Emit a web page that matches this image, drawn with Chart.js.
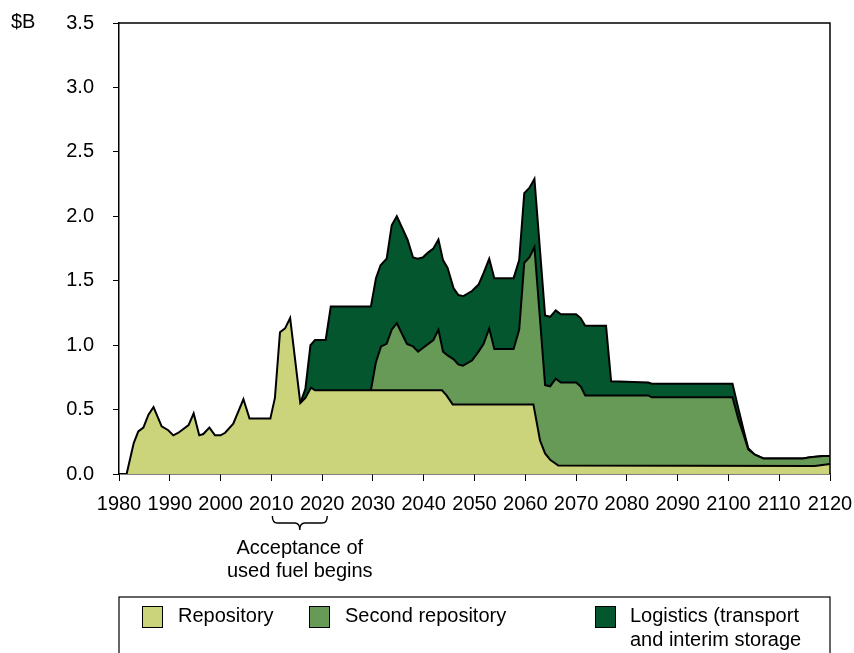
<!DOCTYPE html>
<html>
<head>
<meta charset="utf-8">
<script src="https://cdn.jsdelivr.net/npm/chart.js@4.4.1/dist/chart.umd.min.js"></script>
<style>
	body { margin: 0; background: #fff; }
	#wrap { width: 854px; height: 653px; position: relative; }
</style>
</head>
<body>
<div id="wrap"><canvas id="chart"></canvas></div>
<script>
// Values: the top edge of each band ($B)
const repoYears = [1981.5, 1982.9, 1983.8, 1984.8, 1985.8, 1986.8, 1988.4, 1989.7, 1990.7, 1991.7, 1993.7, 1994.7, 1995.8, 1996.6, 1997.8, 1998.9, 2000.0, 2000.9, 2002.5, 2004.5, 2005.7, 2009.8, 2010.7, 2011.7, 2012.7, 2013.7, 2015.7, 2016.7, 2017.8, 2018.6, 2043.6, 2044.5, 2045.7, 2061.6, 2062.3, 2062.9, 2063.9, 2064.9, 2066.5, 2117.0, 2118.5, 2120];
const repoValues = [0, 0.24, 0.33, 0.36, 0.46, 0.52, 0.37, 0.34, 0.30, 0.32, 0.38, 0.47, 0.30, 0.31, 0.36, 0.30, 0.30, 0.32, 0.39, 0.58, 0.43, 0.43, 0.59, 1.10, 1.13, 1.21, 0.55, 0.59, 0.67, 0.65, 0.65, 0.61, 0.54, 0.54, 0.39, 0.26, 0.16, 0.11, 0.065, 0.062, 0.07, 0.078];

const secondYears = [2029.6, 2030.6, 2031.6, 2032.7, 2033.7, 2034.7, 2036.7, 2037.9, 2038.9, 2039.9, 2040.9, 2041.9, 2042.9, 2043.8, 2044.7, 2045.9, 2046.8, 2047.7, 2049.5, 2050.8, 2051.8, 2052.9, 2053.9, 2057.7, 2058.8, 2059.8, 2060.8, 2061.8, 2063.9, 2064.9, 2066.0, 2067.0, 2070.0, 2070.9, 2071.8, 2084.2, 2084.9, 2100.8, 2102.0, 2102.9, 2103.9, 2105.2, 2106.9, 2114.7, 2116.1, 2118.7, 2120];
const secondValues = [0.65, 0.87, 0.99, 1.01, 1.12, 1.17, 1.01, 0.99, 0.95, 0.98, 1.01, 1.04, 1.12, 0.95, 0.92, 0.89, 0.85, 0.84, 0.88, 0.95, 1.01, 1.13, 0.97, 0.97, 1.12, 1.64, 1.68, 1.76, 0.69, 0.68, 0.74, 0.71, 0.71, 0.68, 0.61, 0.61, 0.595, 0.595, 0.42, 0.315, 0.19, 0.15, 0.12, 0.12, 0.13, 0.14, 0.14];

const logisticsYears = [2015.7, 2016.7, 2017.7, 2018.6, 2020.7, 2021.7, 2029.6, 2030.6, 2031.5, 2032.7, 2033.7, 2034.7, 2036.8, 2037.9, 2038.8, 2039.8, 2040.9, 2041.9, 2042.9, 2043.8, 2044.7, 2045.9, 2046.8, 2047.8, 2049.5, 2050.8, 2051.8, 2052.9, 2053.9, 2057.7, 2058.8, 2059.8, 2060.8, 2061.8, 2063.9, 2064.9, 2066.0, 2067.0, 2070.0, 2070.9, 2071.8, 2075.9, 2076.9, 2084.2, 2084.9, 2100.8, 2102.0, 2102.9, 2103.9, 2105.2, 2106.9, 2114.7, 2116.1, 2118.7, 2120];
const logisticsValues = [0.55, 0.66, 1.00, 1.04, 1.04, 1.30, 1.30, 1.52, 1.62, 1.67, 1.93, 2.00, 1.82, 1.68, 1.67, 1.68, 1.72, 1.75, 1.82, 1.66, 1.60, 1.44, 1.39, 1.38, 1.42, 1.47, 1.56, 1.67, 1.52, 1.52, 1.66, 2.18, 2.22, 2.29, 1.23, 1.22, 1.27, 1.24, 1.24, 1.21, 1.15, 1.15, 0.72, 0.71, 0.70, 0.70, 0.50, 0.355, 0.20, 0.15, 0.12, 0.12, 0.13, 0.14, 0.14];

const seriesLabels = ['Repository', 'Second repository', ['Logistics (transport', 'and interim storage']];
const yUnit = '$B';
const noteLines = ['Acceptance of', 'used fuel begins'];
const noteFrom = 2010;
const noteTo = 2021;

const colors = ['#cbd37b', '#679a56', '#03562d'];
const FONT = "'Liberation Sans', Arial, sans-serif";

function toPoints(xs, ys) {
	return xs.map((x, i) => ({ x: x, y: ys[i] }));
}

function band(label, xs, ys, color) {
	return {
		label: label,
		data: toPoints(xs, ys),
		backgroundColor: color,
		borderColor: '#000',
		borderWidth: 2,
		fill: 'origin',
		pointRadius: 0,
		tension: 0
	};
}

// frame, unit label, brace note and boxed legend
const extras = {
	id: 'extras',
	afterDraw(chart) {
		const c = chart.ctx;
		const area = chart.chartArea;
		const xs = chart.scales.x;
		c.save();
		c.strokeStyle = '#000';
		c.lineWidth = 1.5;
		c.beginPath();
		c.moveTo(area.left, area.top);
		c.lineTo(area.right, area.top);
		c.lineTo(area.right, area.bottom);
		c.stroke();

		c.fillStyle = '#000';
		c.font = '20px ' + FONT;
		c.textBaseline = 'middle';
		c.textAlign = 'left';
		c.fillText(yUnit, 11, 22);

		// brace under the ticks
		const x0 = xs.getPixelForValue(noteFrom) + 1;
		const x1 = xs.getPixelForValue(noteTo);
		const xm = (x0 + x1) / 2;
		const top = 516, mid = 523, tip = 530;
		c.lineWidth = 1.4;
		c.beginPath();
		c.moveTo(x0, top);
		c.quadraticCurveTo(x0, mid, x0 + 5, mid);
		c.lineTo(xm - 5, mid);
		c.quadraticCurveTo(xm, mid, xm, tip);
		c.quadraticCurveTo(xm, mid, xm + 5, mid);
		c.lineTo(x1 - 5, mid);
		c.quadraticCurveTo(x1, mid, x1, top);
		c.stroke();

		c.font = '20px ' + FONT;
		c.textAlign = 'center';
		c.fillText(noteLines[0], xm, 548);
		c.fillText(noteLines[1], xm, 571);

		// legend box
		c.lineWidth = 1.2;
		c.strokeRect(area.left, 597, area.right - area.left, 80);
		const items = [
			{ sx: 142, tx: 178 },
			{ sx: 309, tx: 345 },
			{ sx: 595, tx: 630 }
		];
		c.textAlign = 'left';
		items.forEach((it, i) => {
			c.fillStyle = colors[i];
			c.fillRect(it.sx, 606, 20, 21);
			c.strokeStyle = '#000';
			c.lineWidth = 1;
			c.strokeRect(it.sx + 0.5, 606.5, 20, 21);
			c.fillStyle = '#000';
			const lab = seriesLabels[i];
			if (Array.isArray(lab)) {
				lab.forEach((t, j) => c.fillText(t, it.tx, 616 + j * 24));
			} else {
				c.fillText(lab, it.tx, 616);
			}
		});
		c.restore();
	}
};

new Chart(document.getElementById('chart'), {
	type: 'line',
	data: {
		datasets: [
			band('Repository', repoYears, repoValues, colors[0]),
			band('Second repository', secondYears, secondValues, colors[1]),
			band('Logistics', logisticsYears, logisticsValues, colors[2])
		]
	},
	options: {
		responsive: true,
		maintainAspectRatio: false,
		animation: false,
		events: [],
		layout: { padding: { top: 23, right: 24, bottom: 0, left: 0 } },
		plugins: {
			legend: { display: false },
			tooltip: { enabled: false }
		},
		scales: {
			x: {
				type: 'linear',
				min: 1980,
				max: 2120,
				afterFit: (s) => {
					s.height = 179;
					s.paddingLeft = 0;
					s.paddingRight = 0;
				},
				ticks: {
					stepSize: 10,
					color: '#000',
					font: { family: FONT, size: 20 },
					padding: 11,
					maxRotation: 0,
					autoSkip: false,
					callback: (v) => String(v)
				},
				grid: { drawOnChartArea: false, drawTicks: true, tickLength: 7, color: '#000', lineWidth: 1 },
				border: { display: true, color: '#000', width: 1.5 }
			},
			y: {
				min: 0,
				max: 3.5,
				afterFit: (s) => {
					s.width = 119;
					s.paddingTop = 0;
					s.paddingBottom = 0;
				},
				ticks: {
					stepSize: 0.5,
					color: '#000',
					font: { family: FONT, size: 20 },
					padding: 19,
					callback: (v) => v.toFixed(1)
				},
				grid: { drawOnChartArea: false, drawTicks: true, tickLength: 6, color: '#000', lineWidth: 1 },
				border: { display: true, color: '#000', width: 1.5 }
			}
		}
	},
	plugins: [extras]
});
</script>
</body>
</html>
